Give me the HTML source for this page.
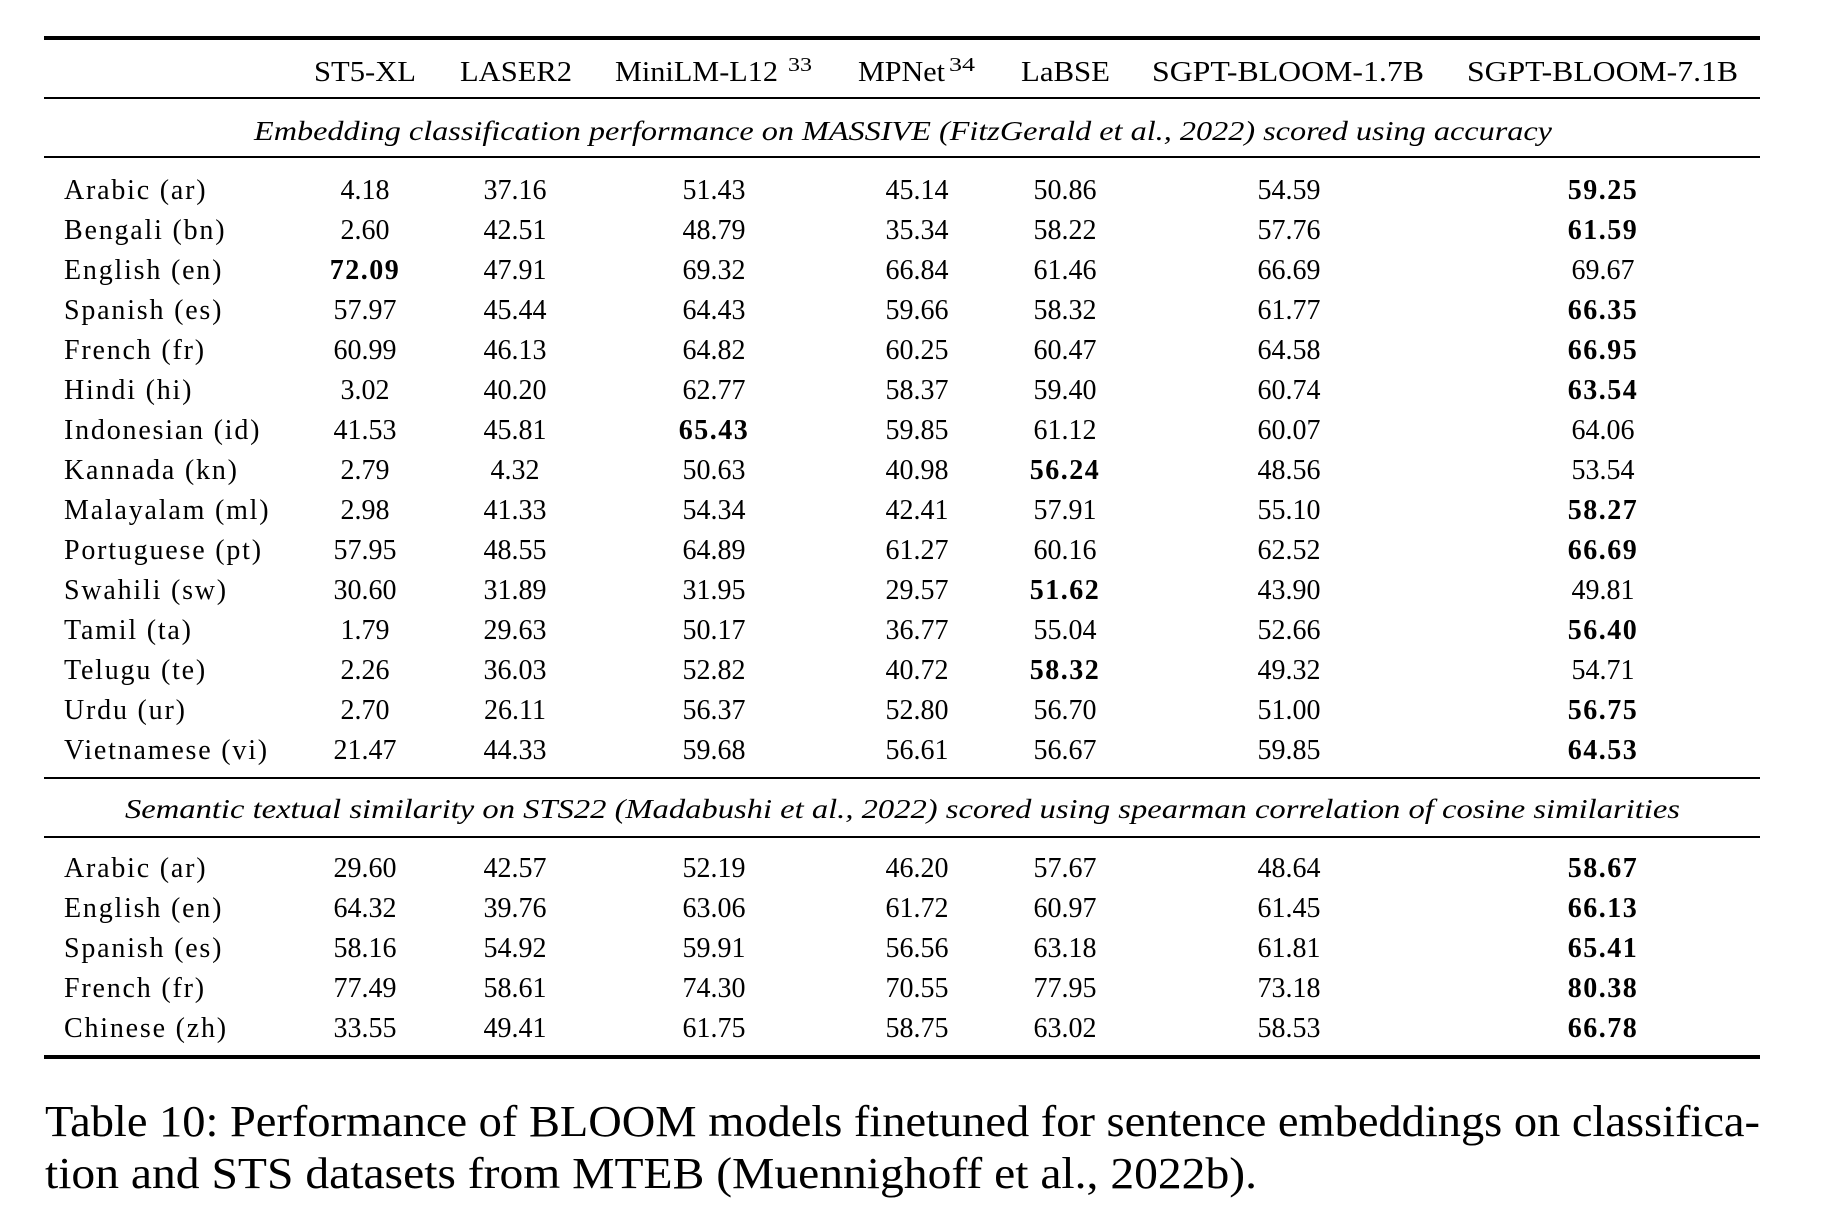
<!DOCTYPE html>
<html><head><meta charset="utf-8"><style>
html,body{margin:0;padding:0;background:#fff;}
svg{display:block;}
text{font-family:"Liberation Serif","DejaVu Serif",serif;fill:#000;}
.lb text{letter-spacing:1.8px;}
.b{font-weight:bold;letter-spacing:1.5px;}
</style></head><body>
<svg width="1824" height="1232" viewBox="0 0 1824 1232" xmlns="http://www.w3.org/2000/svg" font-family="Liberation Serif, serif">
<rect x="0" y="0" width="1824" height="1232" fill="#fff"/>
<rect x="44" y="36" width="1716" height="4" fill="#000"/>
<rect x="44" y="97" width="1716" height="2" fill="#000"/>
<rect x="44" y="156" width="1716" height="2" fill="#000"/>
<rect x="44" y="777" width="1716" height="2" fill="#000"/>
<rect x="44" y="836" width="1716" height="2" fill="#000"/>
<rect x="44" y="1055" width="1716" height="4" fill="#000"/>
<g font-size="28">
<text x="314" y="81" textLength="102" lengthAdjust="spacingAndGlyphs">ST5-XL</text>
<text x="460" y="81" textLength="112" lengthAdjust="spacingAndGlyphs">LASER2</text>
<text x="615" y="81" textLength="163" lengthAdjust="spacingAndGlyphs">MiniLM-L12</text>
<text x="788" y="71" font-size="20" textLength="24" lengthAdjust="spacingAndGlyphs">33</text>
<text x="858" y="81" textLength="87" lengthAdjust="spacingAndGlyphs">MPNet</text>
<text x="949" y="71" font-size="20" textLength="26" lengthAdjust="spacingAndGlyphs">34</text>
<text x="1021" y="81" textLength="89" lengthAdjust="spacingAndGlyphs">LaBSE</text>
<text x="1152" y="81" textLength="272" lengthAdjust="spacingAndGlyphs">SGPT-BLOOM-1.7B</text>
<text x="1467" y="81" textLength="271" lengthAdjust="spacingAndGlyphs">SGPT-BLOOM-7.1B</text>
</g>
<text x="254" y="140" font-size="27" font-style="italic" font-family="Liberation Serif, serif" textLength="1298" lengthAdjust="spacingAndGlyphs">Embedding classification performance on MASSIVE (FitzGerald et al., 2022) scored using accuracy</text>
<text x="125" y="818" font-size="27" font-style="italic" font-family="Liberation Serif, serif" textLength="1555" lengthAdjust="spacingAndGlyphs">Semantic textual similarity on STS22 (Madabushi et al., 2022) scored using spearman correlation of cosine similarities</text>
<g font-size="28">
<g class="lb" text-anchor="start">
<text x="64" y="199">Arabic (ar)</text>
<text x="64" y="239">Bengali (bn)</text>
<text x="64" y="279">English (en)</text>
<text x="64" y="319">Spanish (es)</text>
<text x="64" y="359">French (fr)</text>
<text x="64" y="399">Hindi (hi)</text>
<text x="64" y="439">Indonesian (id)</text>
<text x="64" y="479">Kannada (kn)</text>
<text x="64" y="519">Malayalam (ml)</text>
<text x="64" y="559">Portuguese (pt)</text>
<text x="64" y="599">Swahili (sw)</text>
<text x="64" y="639">Tamil (ta)</text>
<text x="64" y="679">Telugu (te)</text>
<text x="64" y="719">Urdu (ur)</text>
<text x="64" y="759">Vietnamese (vi)</text>
<text x="64" y="877">Arabic (ar)</text>
<text x="64" y="917">English (en)</text>
<text x="64" y="957">Spanish (es)</text>
<text x="64" y="997">French (fr)</text>
<text x="64" y="1037">Chinese (zh)</text>
</g>
<g text-anchor="middle">
<text x="365" y="199">4.18</text><text x="515" y="199">37.16</text><text x="714" y="199">51.43</text><text x="917" y="199">45.14</text><text x="1065" y="199">50.86</text><text x="1289" y="199">54.59</text><text x="1603" y="199" class="b">59.25</text>
<text x="365" y="239">2.60</text><text x="515" y="239">42.51</text><text x="714" y="239">48.79</text><text x="917" y="239">35.34</text><text x="1065" y="239">58.22</text><text x="1289" y="239">57.76</text><text x="1603" y="239" class="b">61.59</text>
<text x="365" y="279" class="b">72.09</text><text x="515" y="279">47.91</text><text x="714" y="279">69.32</text><text x="917" y="279">66.84</text><text x="1065" y="279">61.46</text><text x="1289" y="279">66.69</text><text x="1603" y="279">69.67</text>
<text x="365" y="319">57.97</text><text x="515" y="319">45.44</text><text x="714" y="319">64.43</text><text x="917" y="319">59.66</text><text x="1065" y="319">58.32</text><text x="1289" y="319">61.77</text><text x="1603" y="319" class="b">66.35</text>
<text x="365" y="359">60.99</text><text x="515" y="359">46.13</text><text x="714" y="359">64.82</text><text x="917" y="359">60.25</text><text x="1065" y="359">60.47</text><text x="1289" y="359">64.58</text><text x="1603" y="359" class="b">66.95</text>
<text x="365" y="399">3.02</text><text x="515" y="399">40.20</text><text x="714" y="399">62.77</text><text x="917" y="399">58.37</text><text x="1065" y="399">59.40</text><text x="1289" y="399">60.74</text><text x="1603" y="399" class="b">63.54</text>
<text x="365" y="439">41.53</text><text x="515" y="439">45.81</text><text x="714" y="439" class="b">65.43</text><text x="917" y="439">59.85</text><text x="1065" y="439">61.12</text><text x="1289" y="439">60.07</text><text x="1603" y="439">64.06</text>
<text x="365" y="479">2.79</text><text x="515" y="479">4.32</text><text x="714" y="479">50.63</text><text x="917" y="479">40.98</text><text x="1065" y="479" class="b">56.24</text><text x="1289" y="479">48.56</text><text x="1603" y="479">53.54</text>
<text x="365" y="519">2.98</text><text x="515" y="519">41.33</text><text x="714" y="519">54.34</text><text x="917" y="519">42.41</text><text x="1065" y="519">57.91</text><text x="1289" y="519">55.10</text><text x="1603" y="519" class="b">58.27</text>
<text x="365" y="559">57.95</text><text x="515" y="559">48.55</text><text x="714" y="559">64.89</text><text x="917" y="559">61.27</text><text x="1065" y="559">60.16</text><text x="1289" y="559">62.52</text><text x="1603" y="559" class="b">66.69</text>
<text x="365" y="599">30.60</text><text x="515" y="599">31.89</text><text x="714" y="599">31.95</text><text x="917" y="599">29.57</text><text x="1065" y="599" class="b">51.62</text><text x="1289" y="599">43.90</text><text x="1603" y="599">49.81</text>
<text x="365" y="639">1.79</text><text x="515" y="639">29.63</text><text x="714" y="639">50.17</text><text x="917" y="639">36.77</text><text x="1065" y="639">55.04</text><text x="1289" y="639">52.66</text><text x="1603" y="639" class="b">56.40</text>
<text x="365" y="679">2.26</text><text x="515" y="679">36.03</text><text x="714" y="679">52.82</text><text x="917" y="679">40.72</text><text x="1065" y="679" class="b">58.32</text><text x="1289" y="679">49.32</text><text x="1603" y="679">54.71</text>
<text x="365" y="719">2.70</text><text x="515" y="719">26.11</text><text x="714" y="719">56.37</text><text x="917" y="719">52.80</text><text x="1065" y="719">56.70</text><text x="1289" y="719">51.00</text><text x="1603" y="719" class="b">56.75</text>
<text x="365" y="759">21.47</text><text x="515" y="759">44.33</text><text x="714" y="759">59.68</text><text x="917" y="759">56.61</text><text x="1065" y="759">56.67</text><text x="1289" y="759">59.85</text><text x="1603" y="759" class="b">64.53</text>
<text x="365" y="877">29.60</text><text x="515" y="877">42.57</text><text x="714" y="877">52.19</text><text x="917" y="877">46.20</text><text x="1065" y="877">57.67</text><text x="1289" y="877">48.64</text><text x="1603" y="877" class="b">58.67</text>
<text x="365" y="917">64.32</text><text x="515" y="917">39.76</text><text x="714" y="917">63.06</text><text x="917" y="917">61.72</text><text x="1065" y="917">60.97</text><text x="1289" y="917">61.45</text><text x="1603" y="917" class="b">66.13</text>
<text x="365" y="957">58.16</text><text x="515" y="957">54.92</text><text x="714" y="957">59.91</text><text x="917" y="957">56.56</text><text x="1065" y="957">63.18</text><text x="1289" y="957">61.81</text><text x="1603" y="957" class="b">65.41</text>
<text x="365" y="997">77.49</text><text x="515" y="997">58.61</text><text x="714" y="997">74.30</text><text x="917" y="997">70.55</text><text x="1065" y="997">77.95</text><text x="1289" y="997">73.18</text><text x="1603" y="997" class="b">80.38</text>
<text x="365" y="1037">33.55</text><text x="515" y="1037">49.41</text><text x="714" y="1037">61.75</text><text x="917" y="1037">58.75</text><text x="1065" y="1037">63.02</text><text x="1289" y="1037">58.53</text><text x="1603" y="1037" class="b">66.78</text>
</g>
</g>
<text x="45" y="1136" font-size="44" font-family="Liberation Serif, serif" textLength="1715" lengthAdjust="spacingAndGlyphs">Table 10: Performance of BLOOM models finetuned for sentence embeddings on classifica-</text>
<text x="45" y="1188" font-size="44" font-family="Liberation Serif, serif" textLength="1212" lengthAdjust="spacingAndGlyphs">tion and STS datasets from MTEB (Muennighoff et al., 2022b).</text>
</svg>
</body></html>
